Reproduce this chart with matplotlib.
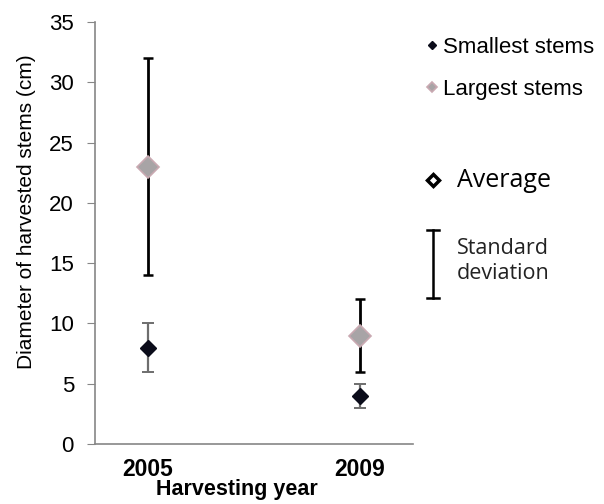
import matplotlib.pyplot as plt
from matplotlib.lines import Line2D
import numpy as np

years = ["2005", "2009"]
small_mean = [8, 4]
small_sd = [2, 1]
large_mean = [23, 9]
large_sd = [9, 3]

plt.rcParams['font.family'] = ['Liberation Sans', 'DejaVu Sans']

fig = plt.figure(figsize=(6.04, 5.04), dpi=100)
ax = fig.add_axes([0.157, 0.119, 0.527, 0.837])

x = np.arange(len(years))

# largest stems: grey diamonds with black error bars
ax.errorbar(x, large_mean, yerr=large_sd, fmt='none', ecolor='black',
            elinewidth=2, capsize=3.8, capthick=1.8, zorder=2)
h_large, = ax.plot(x, large_mean, 'D', ms=11.5, mfc='#a8a4a6', mec='#c9a9b1',
                   mew=1.2, ls='none', zorder=3, label='Largest stems')

# smallest stems: black diamonds with grey bars
ax.errorbar(x, small_mean, yerr=small_sd, fmt='none', ecolor='#6e6e6e',
            elinewidth=1.6, capsize=4.4, capthick=1.4, zorder=2)
h_small, = ax.plot(x, small_mean, 'D', ms=8.5, mfc='#0b0c1a', mec='#0b0c1a',
                   ls='none', zorder=3, label='Smallest stems')

ax.set_xlim(-0.25, 1.25)
ax.set_ylim(0, 35)
ax.set_yticks(np.arange(0, 36, 5))
ax.set_xticks(x)
ax.set_xticklabels(years, fontsize=16.5, fontweight='bold')
ax.tick_params(axis='x', length=0, pad=10)
ax.tick_params(axis='y', length=6, color='#868686', labelsize=16, pad=9)
for s in ['top', 'right']:
    ax.spines[s].set_visible(False)
for s in ['left', 'bottom']:
    ax.spines[s].set_color('#868686')
    ax.spines[s].set_linewidth(1.2)

ax.set_ylabel("Diameter of harvested stems (cm)", fontsize=15)
ax.yaxis.set_label_coords(-0.185, 0.55)
ax.set_xlabel("Harvesting year", fontsize=15.5, fontweight='bold')
ax.xaxis.set_label_coords(0.447, -0.082)

# series legend
fig.legend(handles=[h_small, h_large], loc='upper left',
           bbox_to_anchor=(0.6863, 0.9484), frameon=False, fontsize=16,
           borderpad=0, handlelength=0.6, handletextpad=0.2,
           labelspacing=0.95, markerscale=0.45)

# key for average / standard deviation
fig.add_artist(Line2D([433 / 604], [1 - 180 / 504], marker='D', ms=6.5,
                      mfc='white', mec='black', mew=2.5,
                      transform=fig.transFigure))
fig.text(457 / 604, 1 - 180 / 504, "Average", fontsize=18,
         family=['Open Sans', 'DejaVu Sans'], va='center', ha='left')
x0 = 433 / 604
y_top = 1 - 230 / 504
y_bot = 1 - 298 / 504
cw = 6 / 604
fig.add_artist(Line2D([x0, x0], [y_bot, y_top], color='black', lw=1.8,
                      transform=fig.transFigure))
for yy in (y_top, y_bot):
    fig.add_artist(Line2D([x0 - cw, x0 + cw], [yy, yy], color='black', lw=1.8,
                          transform=fig.transFigure))
fig.text(457 / 604, 1 - 261 / 504, "Standard\ndeviation", fontsize=15.5,
         family=['Open Sans', 'DejaVu Sans'], va='center', ha='left',
         color='#222222', linespacing=1.25)

fig.savefig("out.png", dpi=100)
